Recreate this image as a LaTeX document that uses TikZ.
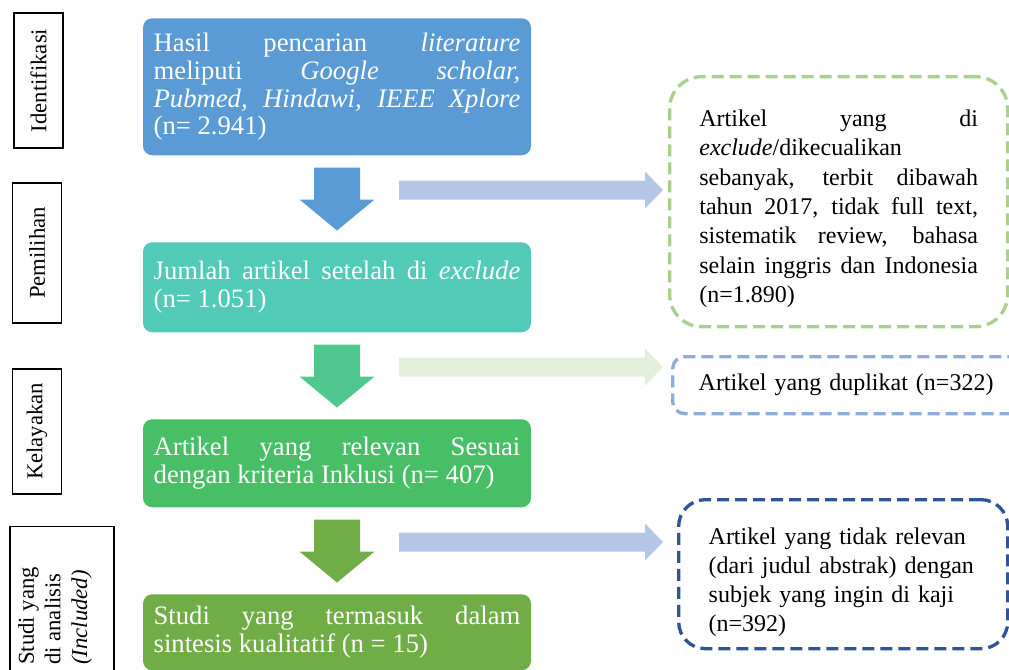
\documentclass[tikz,border=0pt]{standalone}
\usepackage{fontspec}
\setmainfont{Liberation Serif}
\usepackage{tikz}

\definecolor{boxblue}{HTML}{5B9BD5}
\definecolor{boxteal}{HTML}{52CAB8}
\definecolor{arrowteal}{HTML}{50C78E}
\definecolor{boxgreen}{HTML}{48BF66}
\definecolor{boxolive}{HTML}{70AD47}
\definecolor{arrowblue}{HTML}{B4C7E7}
\definecolor{arrowgreen}{HTML}{E2EFDA}
\definecolor{dashgreen}{HTML}{A9D18E}
\definecolor{dashblue}{HTML}{8FAADC}
\definecolor{dashdark}{HTML}{2F5597}

\begin{document}
\begin{tikzpicture}[x=0.75pt, y=-0.75pt,
  mainbox/.style={rounded corners=7pt, text=white, text width=275pt, inner xsep=8pt,
    minimum height=#1, align=justify, anchor=north, font=\fontsize{20}{20.8}\selectfont},
  exbox/.style={draw=#1, line width=2.5pt, dash pattern=on 9pt off 4.5pt, anchor=north west,
    font=\fontsize{18}{22}\selectfont},
  stagebox/.style={draw, line width=1pt, rotate=90, inner sep=0pt, font=\fontsize{17}{20}\selectfont}]
  \useasboundingbox (0,0) rectangle (1009,670);

  % stages on the left
  \node[stagebox, minimum width=101.25pt, minimum height=36.75pt] (ident) at (38.5,80.5) {Identifikasi};
  \node[stagebox, minimum width=105pt, minimum height=37pt] (pilih) at (37,253) {Pemilihan};
  \node[stagebox, minimum width=93.75pt, minimum height=37pt] (layak) at (37,431.5) {Kelayakan};
  \node[stagebox, minimum width=130.5pt, minimum height=78pt, anchor=east] (studibox) at (62,526) {};
  \node[rotate=90, anchor=west, align=left, inner sep=0pt, font=\fontsize{17}{20}\selectfont]
    (studitxt) at (55,665) {Studi yang\\di analisis\\\textit{(Included)}};

  % main flow
  \node[mainbox=102.75pt, fill=boxblue] (hasil) at (337,18)
    {Hasil pencarian \textit{literature}\linebreak meliputi \textit{Google scholar,}\linebreak
     \textit{Pubmed, Hindawi, IEEE Xplore}\linebreak (n= 2.941)};
  \node[mainbox=67.5pt, fill=boxteal] (jumlah) at (337,242)
    {Jumlah artikel setelah di \textit{exclude}\linebreak (n= 1.051)};
  \node[mainbox=66pt, fill=boxgreen] (relevan) at (337,419)
    {Artikel yang relevan Sesuai\linebreak dengan kriteria Inklusi (n= 407)};
  \node[mainbox=57pt, fill=boxolive] (studi) at (337,594)
    {Studi yang termasuk dalam\linebreak sintesis kualitatif (n = 15)};

  % block arrows
  \foreach \a/\c/\d in {hasil/boxblue/arrowblue, jumlah/arrowteal/arrowgreen, relevan/boxolive/arrowblue}{
    \fill[\c, shift={(\a.south)}] (-23,12) -- (23,12) -- (23,44) -- (37.5,44) -- (0,75)
      -- (-37.5,44) -- (-23,44) -- cycle;
    \fill[\d, shift={(\a.south)}] (62,25) -- (308,25) -- (308,16) -- (326,34.5) -- (308,53)
      -- (308,44) -- (62,44) -- cycle;
  }

  % excluded records
  \node[exbox=dashgreen, rounded corners=24pt, text width=209pt, inner xsep=22.25pt,
    minimum height=187.5pt, align=justify] (exclude) at (668,75)
    {\rule{0pt}{23pt}Artikel yang di\linebreak \textit{exclude}/dikecualikan\newline sebanyak, terbit dibawah\linebreak
     tahun 2017, tidak full text,\linebreak sistematik review, bahasa\linebreak
     selain inggris dan Indonesia\linebreak (n=1.890)};
  \node[exbox=dashblue, rounded corners=9pt, text width=230pt, inner xsep=19.5pt,
    minimum height=42.75pt, align=left] (duplikat) at (671,355) {Artikel yang duplikat (n=322)};
  \node[exbox=dashdark, rounded corners=20pt, text width=201.75pt, inner xsep=22.5pt,
    minimum height=111.75pt, align=left, font=\fontsize{18}{21.75}\selectfont] (tidak) at (677,498)
    {\rule{0pt}{24.5pt}Artikel yang tidak relevan\\(dari judul abstrak) dengan\\subjek yang ingin di kaji\\(n=392)};
\end{tikzpicture}
\end{document}
